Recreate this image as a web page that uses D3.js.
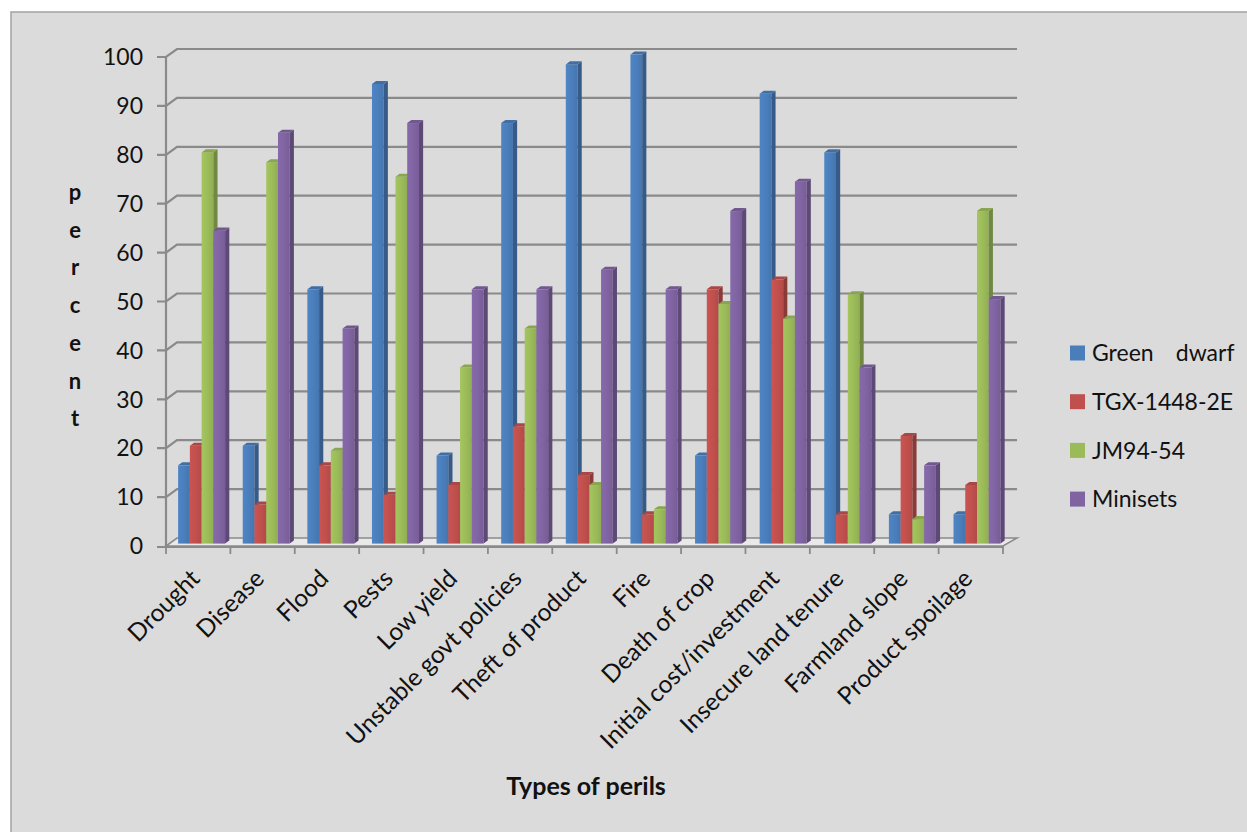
<!DOCTYPE html>
<html>
<head>
<meta charset="utf-8">
<script src="https://cdn.jsdelivr.net/npm/d3@7"></script>
<style>
  html, body { margin: 0; padding: 0; background: #ffffff; }
  svg { display: block; }
  text { font-family: Lato, "Liberation Sans", Arial, sans-serif; fill: #111; }
</style>
</head>
<body>
<svg id="chart" width="1247" height="832"></svg>
<script>
// ---- data ----
const categories = ["Drought", "Disease", "Flood", "Pests", "Low yield",
  "Unstable govt policies", "Theft of product", "Fire", "Death of crop",
  "Initial cost/investment", "Insecure land tenure", "Farmland slope", "Product spoilage"];
const seriesNames = ["Green   dwarf", "TGX-1448-2E", "JM94-54", "Minisets"];
const greenDwarf = [16, 20, 52, 94, 18, 86, 98, 100, 18, 92, 80, 6, 6];
const tgx14482E  = [20, 8, 16, 10, 12, 24, 14, 6, 52, 54, 6, 22, 12];
const jm9454     = [80, 78, 19, 75, 36, 44, 12, 7, 49, 46, 51, 5, 68];
const minisets   = [64, 84, 44, 86, 52, 52, 56, 52, 68, 74, 36, 16, 50];
const yTicks = [0, 10, 20, 30, 40, 50, 60, 70, 80, 90, 100];
const seriesColors = ["#4a7ebb", "#c0504d", "#9bbb59", "#8064a2"];
const yTitle = "percent";
const xTitle = "Types of perils";

const seriesValues = [greenDwarf, tgx14482E, jm9454, minisets];

// ---- geometry of the 3-D box ----
const depth = { x: 11, y: -8 };          // full floor depth vector
const frontLeft = 166, frontRight = 1003;
const barT0 = 0.3, barT = 0.38;          // bar front position & thickness along depth

const svg = d3.select("#chart");

// chart area background and frame
svg.append("rect").attr("x", 11).attr("y", 12).attr("width", 1250).attr("height", 840)
  .attr("fill", "#dbdbdb").attr("stroke", "#a3a3a3").attr("stroke-width", 1.5);

const y = d3.scaleLinear().domain([0, 100]).range([546, 57]);
const x = d3.scaleBand().domain(categories).range([frontLeft, frontRight]).padding(0);
const xBars = d3.scaleBand().domain(categories)
  .range([frontLeft + barT0 * depth.x, frontRight + barT0 * depth.x + 3]).padding(0);
const xs = d3.scaleBand().domain(d3.range(seriesNames.length))
  .range([0, xBars.bandwidth()]).paddingInner(0).paddingOuter(0.75);

// gradient definitions for bar front faces
const defs = svg.append("defs");
seriesColors.forEach((c, i) => {
  const g = defs.append("linearGradient").attr("id", "front" + i)
    .attr("x1", "0").attr("x2", "1").attr("y1", "0").attr("y2", "0");
  g.append("stop").attr("offset", "0%").attr("stop-color", d3.color(c).brighter(0.15));
  g.append("stop").attr("offset", "55%").attr("stop-color", c);
  g.append("stop").attr("offset", "100%").attr("stop-color", d3.color(c).darker(0.2));
});

// ---- gridlines running from the front axis back to the wall ----
const grid = svg.append("g");
yTicks.forEach(t => {
  const yf = y(t);
  if (t === 0) return;
  grid.append("path")
    .attr("d", `M${frontLeft - 9},${yf} L${frontLeft},${yf} L${frontLeft + depth.x},${yf + depth.y} L${frontRight + 14},${yf + depth.y}`)
    .attr("fill", "none").attr("stroke", "#8a8a8a").attr("stroke-width", 2.2);
});

// ---- floor ----
const y0 = y(0);
svg.append("path")
  .attr("d", `M${frontLeft},${y0} L${frontRight},${y0} L${frontRight + 14},${y0 + depth.y} L${frontLeft + depth.x},${y0 + depth.y} Z`)
  .attr("fill", "#e9e9e9").attr("stroke", "#8a8a8a").attr("stroke-width", 1.6);
svg.append("line").attr("x1", frontLeft - 9).attr("x2", frontRight)
  .attr("y1", y0 + 1).attr("y2", y0 + 1).attr("stroke", "#8a8a8a").attr("stroke-width", 2);

// category tick marks
svg.append("g").selectAll("line").data(d3.range(categories.length + 1)).join("line")
  .attr("x1", i => frontLeft + i * x.step()).attr("x2", i => frontLeft + i * x.step())
  .attr("y1", y0).attr("y2", y0 + 8).attr("stroke", "#8a8a8a").attr("stroke-width", 1.8);

// vertical axis line
svg.append("line").attr("x1", frontLeft).attr("x2", frontLeft)
  .attr("y1", y(100)).attr("y2", y0 + 1).attr("stroke", "#8a8a8a").attr("stroke-width", 2.2);

// ---- 3-D bars ----
const bars = svg.append("g");
const ox = barT0 * depth.x, oy = barT0 * depth.y;
const tx = barT * depth.x, ty = barT * depth.y;
categories.forEach((cat, ci) => {
  seriesValues.forEach((vals, si) => {
    const v = vals[ci];
    const c = seriesColors[si];
    const xl = xBars(cat) + xs(si);
    const w = xs.bandwidth();
    const yt = y(v) + oy, yb = y(0) + oy;
    const g = bars.append("g");
    // front face
    g.append("rect").attr("x", xl).attr("y", yt).attr("width", w).attr("height", yb - yt)
      .attr("fill", `url(#front${si})`);
    // right side face
    g.append("path")
      .attr("d", `M${xl + w},${yt} L${xl + w + tx},${yt + ty} L${xl + w + tx},${yb + ty} L${xl + w},${yb} Z`)
      .attr("fill", d3.color(c).darker(0.9));
    // top face
    g.append("path")
      .attr("d", `M${xl},${yt} L${xl + w},${yt} L${xl + w + tx},${yt + ty} L${xl + tx},${yt + ty} Z`)
      .attr("fill", d3.color(c).darker(0.35));
  });
});

// ---- y tick labels ----
svg.append("g").selectAll("text").data(yTicks).join("text")
  .attr("x", 143).attr("y", d => y(d)).attr("dy", "0.36em")
  .attr("text-anchor", "end").attr("font-size", 23).text(d => d);

// ---- category labels, rotated ----
svg.append("g").selectAll("text").data(categories).join("text")
  .attr("transform", d => `translate(${x(d) + x.bandwidth() / 2 - 3},${y0 + 28}) rotate(-45)`)
  .attr("text-anchor", "end").attr("dy", "0.35em").attr("font-size", 24.5).text(d => d);

// ---- axis titles ----
const yt = svg.append("text").attr("font-size", 22).attr("font-weight", "bold").attr("text-anchor", "middle");
yTitle.split("").forEach((ch, i) => {
  yt.append("tspan").attr("x", 75).attr("y", 200 + i * 37.7).text(ch);
});
svg.append("text").attr("x", 586).attr("y", 795).attr("text-anchor", "middle")
  .attr("font-size", 25).attr("font-weight", "bold").text(xTitle);

// ---- legend ----
const legend = svg.append("g");
seriesNames.forEach((name, i) => {
  const cy = 353 + i * 48.7;
  legend.append("rect").attr("x", 1070).attr("y", cy - 7.5).attr("width", 15).attr("height", 15)
    .attr("fill", seriesColors[i]);
  legend.append("text").attr("x", 1092).attr("y", cy).attr("dy", "0.36em")
    .attr("font-size", 23).attr("word-spacing", 1.5).style("white-space", "pre").text(name);
});
</script>
</body>
</html>
